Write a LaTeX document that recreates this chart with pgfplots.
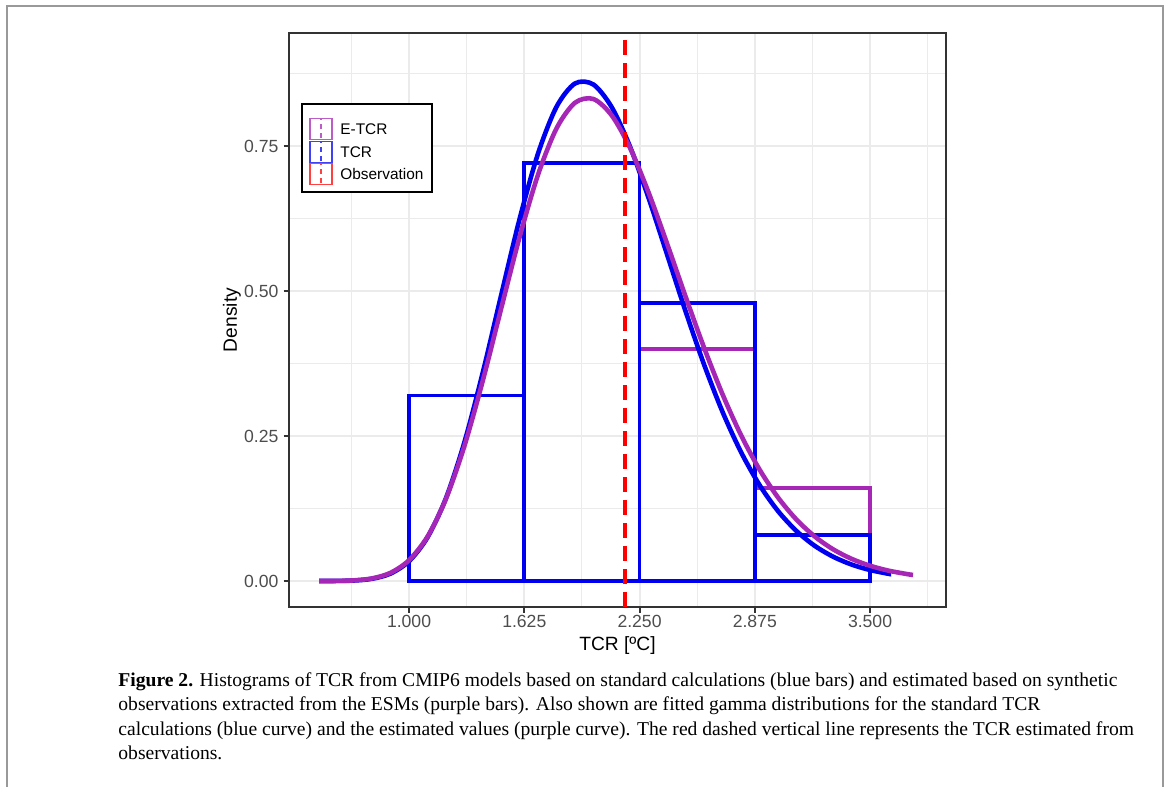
\documentclass[border=0pt]{standalone}
\usepackage{pgfplots}
\pgfplotsset{compat=1.18}
\usepackage{fontspec}
\setmainfont{Liberation Sans}
\newfontfamily\capfont{Liberation Serif}
\definecolor{tcrblue}{HTML}{0000F0}
\definecolor{etcrpurple}{HTML}{A626B5}
\definecolor{gridgray}{HTML}{EBEBEB}
\definecolor{tickgray}{HTML}{4D4D4D}
\definecolor{bordergray}{HTML}{333333}

\begin{document}
\begin{tikzpicture}
% page frame (1 px = 0.5 pt, origin top left)
\path[use as bounding box] (0pt,0pt) rectangle (583.5pt,-393.5pt);
\draw[black!40, line width=1pt] (3.5pt,-393.5pt) -- (3.5pt,-3pt) -- (581.5pt,-3pt) -- (581.5pt,-393.5pt);

\begin{axis}[
  at={(144.5pt,-16.5pt)}, anchor=north west,
  scale only axis, width=328.5pt, height=287pt,
  xmin=0.349, xmax=3.912, ymin=-0.0448, ymax=0.9448,
  xtick={1,1.625,2.25,2.875,3.5},
  xticklabels={1.000,1.625,2.250,2.875,3.500},
  ytick={0,0.25,0.5,0.75},
  yticklabels={0.00,0.25,0.50,0.75},
  minor xtick={0.6875,1.3125,1.9375,2.5625,3.1875,3.8125},
  minor ytick={0.125,0.375,0.625,0.875},
  grid=both,
  major grid style={gridgray, line width=1pt},
  minor grid style={gridgray, line width=0.55pt},
  minor tick length=0pt, major tick length=2.75pt,
  tick align=outside, xtick pos=left, ytick pos=left,
  tick style={bordergray, line width=1pt},
  axis line style={bordergray, line width=1pt},
  ticklabel style={font=\fontsize{8.8}{10}\selectfont, text=tickgray},
  yticklabel style={xshift=1pt},
  xticklabel style={yshift=2pt},
  xlabel={TCR [ºC]}, ylabel={Density},
  label style={font=\fontsize{9.6}{11}\selectfont},
  xlabel style={at={(axis description cs:0.5,-0.067)}, anchor=center},
  ylabel style={at={(axis description cs:-0.0868,0.5)}, anchor=center},
  clip=true,
]
% E-TCR histogram (purple)
\addplot[ybar interval, draw=etcrpurple, fill=none, line width=1.9pt, line join=miter]
  coordinates {(1,0.32)(1.625,0.72)(2.25,0.40)(2.875,0.16)(3.5,0.16)};
% TCR histogram (blue)
\addplot[ybar interval, draw=tcrblue, fill=none, line width=1.9pt, line join=miter]
  coordinates {(1,0.32)(1.625,0.72)(2.25,0.48)(2.875,0.08)(3.5,0.08)};
% fitted gamma, TCR
\addplot[tcrblue, line width=2.3pt, smooth] coordinates {
 (0.512,0.00002)(0.6,0.00014)(0.7,0.00089)(0.8,0.00391)(0.9,0.01292)(1.0,0.03413)
 (1.1,0.07522)(1.2,0.14271)(1.3,0.23898)(1.4,0.35954)(1.5,0.49337)(1.6,0.62480)
 (1.7,0.73745)(1.8,0.81772)(1.9,0.85782)(2.0,0.85597)(2.1,0.81639)
 (2.2,0.74760)(2.3,0.65947)(2.4,0.56231)(2.5,0.46475)(2.6,0.37313)(2.7,0.29173)
 (2.8,0.22253)(2.9,0.16586)(3.0,0.12105)(3.1,0.08656)(3.2,0.06074)(3.3,0.04192)
 (3.4,0.02842)(3.5,0.01898)(3.6,0.01249)(3.614,0.01180)
};
% fitted gamma, E-TCR
\addplot[etcrpurple, line width=2.3pt, smooth] coordinates {
 (0.512,0.00003)(0.6,0.00019)(0.7,0.00112)(0.8,0.00456)(0.9,0.01422)(1.0,0.03594)
 (1.1,0.07653)(1.2,0.14154)(1.3,0.23257)(1.4,0.34543)(1.5,0.47029)(1.6,0.59363)
 (1.7,0.70099)(1.8,0.78049)(1.9,0.82455)(2.0,0.83102)(2.1,0.80242)
 (2.2,0.74573)(2.3,0.66899)(2.4,0.58109)(2.5,0.49012)(2.6,0.40227)(2.7,0.32195)
 (2.8,0.25172)(2.9,0.19259)(3.0,0.14445)(3.1,0.10628)(3.2,0.07683)(3.3,0.05462)
 (3.4,0.03824)(3.5,0.02637)(3.6,0.01793)(3.7,0.01204)(3.733,0.01045)
};
% observation
\addplot[red, line width=2pt, dash pattern=on 7.5pt off 4pt]
  coordinates {(2.171,-0.0448)(2.171,0.9448)};
\end{axis}

% legend
\draw[black, line width=1pt, fill=white] (151pt,-52pt) rectangle (216pt,-96pt);
\foreach \c/\y/\t in {etcrpurple/-64.5pt/E-TCR, tcrblue/-76pt/TCR, red/-87pt/Observation}{
  \draw[\c!75, line width=0.8pt] (155pt,\y-5.3pt) rectangle (166pt,\y+5.3pt);
  \draw[\c!75, line width=0.8pt, dash pattern=on 2.5pt off 2pt, dash phase=-1pt] (160.5pt,\y-5.3pt) -- (160.5pt,\y+5.3pt);
  \node[anchor=west, inner sep=0pt, font=\fontsize{7.7}{9}\selectfont] at (170pt,\y) {\t};
}

% caption
\begin{scope}[every node/.style={anchor=base west, inner sep=0pt, font=\capfont\fontsize{9.8}{12}\selectfont}]
\node at (59pt,-343pt) {\textbf{Figure 2.} Histograms of TCR from CMIP6 models based on standard calculations (blue bars) and estimated based on synthetic};
\node at (59pt,-355.3pt) {observations extracted from the ESMs (purple bars). Also shown are fitted gamma distributions for the standard TCR};
\node at (59pt,-367.5pt) {calculations (blue curve) and the estimated values (purple curve). The red dashed vertical line represents the TCR estimated from};
\node at (59pt,-379.7pt) {observations.};
\end{scope}
\end{tikzpicture}
\end{document}
